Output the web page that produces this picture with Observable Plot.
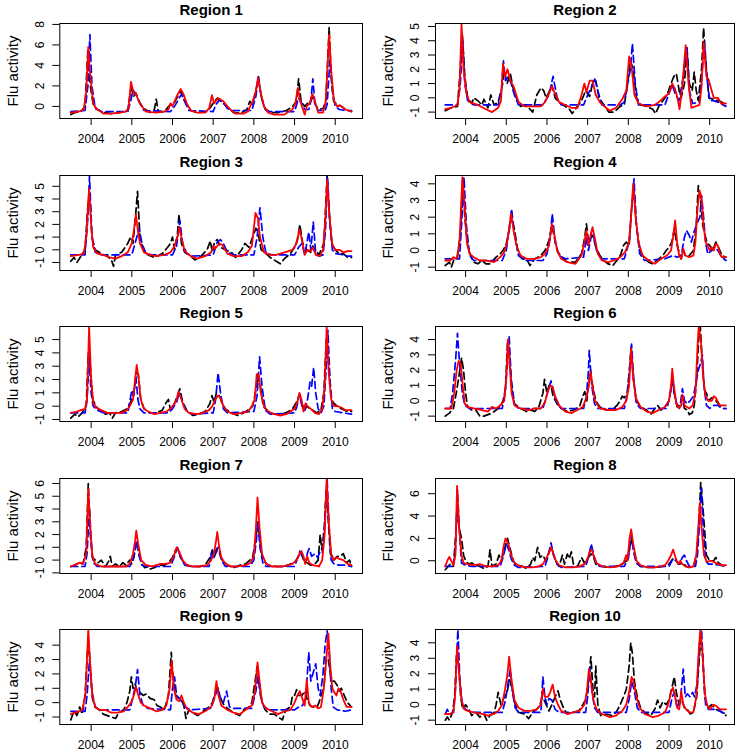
<!DOCTYPE html>
<html>
<head>
<meta charset="utf-8">
<script src="https://cdn.jsdelivr.net/npm/d3@7"></script>
<script src="https://cdn.jsdelivr.net/npm/@observablehq/plot@0.6"></script>
<style>
  html, body { margin: 0; padding: 0; background: #fff; }
  #chart { position: relative; width: 740px; height: 754px; background: #fff; overflow: hidden; }
  .panel { position: absolute; width: 370px; height: 151px; }
</style>
</head>
<body>
<div id="chart"></div>
<script>
// ---------------- DATA ----------------
const regionNames = ["Region 1","Region 2","Region 3","Region 4","Region 5","Region 6","Region 7","Region 8","Region 9","Region 10"];
const xTicks = [2004, 2005, 2006, 2007, 2008, 2009, 2010];
const yTicks = [
  [0,2,4,6,8], [-1,0,1,2,3,4,5], [-1,0,1,2,3,4,5], [-1,0,1,2,3,4], [-1,0,1,2,3,4,5],
  [-1,0,1,2,3,4], [-1,0,1,2,3,4,5,6], [0,2,4,6], [-1,0,1,2,3,4], [-1,0,1,2,3,4]
];
const yDomains = [
  [-1.18,8.09], [-1.45,5.21], [-1.63,5.85], [-1.2,4.5], [-1.15,5.98],
  [-1.35,4.85], [-1.05,6.39], [-1.14,7.36], [-1.52,5.09], [-1.28,4.86]
];

// series as flat lists: year, value, year, value, ...
const r1Black = [2003.5,-0.8,2003.6,-0.6,2003.75,-0.5,2003.85,0,2003.92,5.5,2003.98,2,2004.05,0.2,2004.15,-0.3,2004.3,-0.6,2004.5,-0.7,2004.7,-0.6,2004.9,-0.4,2004.98,1.8,2005.05,1,2005.1,1.3,2005.2,0.3,2005.3,-0.2,2005.45,-0.6,2005.55,-0.4,2005.6,0.7,2005.65,-0.5,2005.8,-0.5,2005.95,0.2,2006.05,0.4,2006.13,1,2006.2,1.5,2006.3,0.5,2006.45,-0.4,2006.6,-0.6,2006.85,-0.5,2006.95,0,2007.03,0.5,2007.1,0.8,2007.2,0.5,2007.35,-0.1,2007.5,-0.6,2007.7,-0.6,2007.83,-0.3,2007.9,0.5,2007.96,0.2,2008.05,1.5,2008.11,2.9,2008.18,1,2008.27,-0.2,2008.4,-0.6,2008.6,-0.6,2008.8,-0.4,2008.95,0,2009.05,0.5,2009.1,2.7,2009.16,0.5,2009.25,0,2009.32,0.3,2009.4,0.5,2009.45,1,2009.5,0.3,2009.58,-0.3,2009.7,-0.2,2009.77,0.5,2009.85,7.7,2009.9,3,2009.96,0.5,2010.05,0.2,2010.15,0,2010.25,-0.3,2010.4,-0.5];
const r1Blue = [2003.5,-0.5,2003.85,-0.4,2003.92,2,2003.97,7,2004.02,2,2004.1,-0.2,2004.25,-0.5,2004.9,-0.5,2004.97,0.5,2005.03,1.6,2005.1,1.2,2005.2,0.3,2005.3,-0.4,2005.95,-0.5,2006.05,0,2006.15,0.7,2006.22,1.2,2006.3,0.5,2006.4,-0.4,2007,-0.5,2007.07,0.2,2007.15,0.6,2007.25,0.4,2007.35,-0.2,2007.45,-0.4,2007.95,-0.4,2008.05,1,2008.11,2.9,2008.18,1,2008.27,-0.3,2008.35,-0.5,2009,-0.5,2009.1,0.8,2009.18,0.3,2009.25,-0.3,2009.35,-0.3,2009.4,0.5,2009.45,2.7,2009.5,0.3,2009.58,-0.4,2009.75,-0.4,2009.8,0.2,2009.87,4.5,2009.93,1.5,2010,0,2010.1,-0.3,2010.25,-0.4,2010.4,-0.4];
const r1Red = [2003.5,-0.6,2003.7,-0.5,2003.82,-0.3,2003.88,1.5,2003.93,5.8,2003.98,3,2004.05,0.3,2004.12,-0.2,2004.2,-0.4,2004.3,-0.7,2004.5,-0.7,2004.7,-0.6,2004.85,-0.5,2004.92,-0.2,2004.98,2.4,2005.05,1.2,2005.1,1.3,2005.17,0.5,2005.25,0,2005.35,-0.5,2005.6,-0.6,2005.8,-0.5,2005.9,-0.3,2005.95,0.3,2006,0,2006.05,0.5,2006.13,1.2,2006.2,1.7,2006.27,1.2,2006.35,0.3,2006.45,-0.4,2006.6,-0.6,2006.8,-0.6,2006.9,-0.2,2006.97,1.1,2007.02,0.3,2007.08,0.6,2007.13,0.8,2007.25,0.5,2007.35,0,2007.45,-0.4,2007.55,-0.7,2007.75,-0.7,2007.85,-0.5,2007.92,0.1,2007.97,0.5,2008.05,1.5,2008.1,2.8,2008.17,1.3,2008.25,0,2008.35,-0.6,2008.5,-0.8,2008.75,-0.8,2008.85,-0.5,2008.95,-0.3,2009.02,0.3,2009.08,1.8,2009.14,0.5,2009.2,-0.2,2009.25,-0.8,2009.3,0,2009.37,0.3,2009.44,1.2,2009.5,0.5,2009.58,-0.6,2009.7,-0.6,2009.76,0.3,2009.8,3,2009.85,7,2009.9,3.5,2009.97,0.5,2010.05,0,2010.12,0.1,2010.25,-0.3,2010.4,-0.5];

const r2Black = [2003.5,-0.9,2003.65,-0.7,2003.8,-0.6,2003.87,2,2003.92,4.5,2003.98,1.5,2004.05,0,2004.15,-0.4,2004.2,0,2004.3,-0.2,2004.4,-0.5,2004.45,-0.1,2004.55,-0.7,2004.62,0.2,2004.7,-0.5,2004.8,-0.3,2004.9,0.8,2004.95,1.9,2005.02,1,2005.1,1.7,2005.18,0.5,2005.25,0,2005.35,-0.6,2005.45,-0.5,2005.55,-0.7,2005.65,-1,2005.75,0.2,2005.85,0.7,2005.92,0.5,2005.98,0,2006.05,0.4,2006.12,0.9,2006.2,0,2006.3,-0.3,2006.45,-0.6,2006.55,-0.8,2006.62,-1.1,2006.75,-0.6,2006.85,-0.2,2006.95,0.5,2007.05,0.1,2007.12,1,2007.2,1.2,2007.28,0,2007.4,-0.5,2007.52,-1,2007.65,-1,2007.8,-0.6,2007.9,-0.5,2007.97,0.7,2008.05,2.6,2008.12,2,2008.2,0,2008.3,-0.5,2008.45,-0.6,2008.6,-0.8,2008.67,-1.1,2008.75,-0.6,2008.85,-0.2,2008.95,0.2,2009.05,1,2009.12,1.5,2009.18,1.7,2009.25,0.5,2009.3,0,2009.38,1,2009.44,3.6,2009.5,1,2009.57,0.5,2009.62,1.8,2009.67,0.5,2009.72,-0.2,2009.8,2,2009.85,4.9,2009.92,2,2009.98,0,2010.08,-0.1,2010.2,-0.2,2010.3,-0.3,2010.4,-0.5];
const r2Blue = [2003.5,-0.5,2003.8,-0.5,2003.87,1,2003.93,4,2003.98,1,2004.05,-0.2,2004.2,-0.5,2004.8,-0.5,2004.88,0.5,2004.93,2.6,2004.98,1.2,2005.05,1.5,2005.12,1,2005.2,0.2,2005.3,-0.5,2005.9,-0.5,2006.05,0.2,2006.15,1.5,2006.25,0,2006.35,-0.5,2006.9,-0.5,2007,0.2,2007.1,0.8,2007.17,1.4,2007.25,0.5,2007.35,-0.5,2007.8,-0.5,2007.9,-0.3,2008.05,2,2008.1,3.8,2008.17,1,2008.25,-0.5,2008.9,-0.5,2009,0.3,2009.08,0.9,2009.15,0.3,2009.25,-0.2,2009.35,1.5,2009.44,3.5,2009.5,0.5,2009.58,-0.4,2009.75,-0.3,2009.82,2,2009.87,3.9,2009.93,1.5,2010,-0.2,2010.1,-0.2,2010.2,-0.3,2010.4,-0.6];
const r2Red = [2003.5,-0.8,2003.65,-0.7,2003.8,-0.5,2003.85,0.5,2003.9,5.2,2003.95,2,2004.02,0.3,2004.1,-0.3,2004.3,-0.5,2004.5,-0.8,2004.65,-1,2004.8,-0.7,2004.87,-0.2,2004.92,2.4,2004.97,1.5,2005.03,2,2005.1,1.2,2005.18,0.8,2005.3,-0.3,2005.45,-0.6,2005.7,-0.6,2005.85,-0.6,2005.95,-0.3,2006.05,0.3,2006.12,0.8,2006.2,0.3,2006.3,-0.3,2006.45,-0.5,2006.6,-0.7,2006.75,-0.7,2006.85,0.2,2006.92,1,2006.97,0.4,2007.05,1.2,2007.12,1.2,2007.2,0.2,2007.3,-0.3,2007.45,-0.7,2007.55,-0.9,2007.7,-0.7,2007.85,-0.1,2007.95,0.5,2008.02,2.9,2008.08,2.2,2008.15,0.2,2008.25,-0.4,2008.45,-0.6,2008.65,-0.5,2008.75,-0.3,2008.9,0.1,2009,0.3,2009.08,1,2009.15,0.6,2009.2,0.1,2009.26,-0.8,2009.32,0.6,2009.41,3.7,2009.48,1,2009.55,-0.7,2009.65,-0.6,2009.75,-0.5,2009.8,0.8,2009.85,3.9,2009.92,1.5,2009.97,1.3,2010.05,0.5,2010.1,0,2010.2,0,2010.28,-0.4,2010.4,-0.4];

const r3Black = [2003.5,-0.9,2003.58,-0.6,2003.65,-1,2003.75,-0.5,2003.85,0,2003.92,3.5,2003.97,4.2,2004.02,1,2004.1,0,2004.25,-0.3,2004.4,-0.5,2004.5,-0.8,2004.55,-1.3,2004.6,-0.4,2004.75,-0.2,2004.9,0.5,2004.97,1,2005.03,0.5,2005.1,3,2005.14,4.6,2005.2,1,2005.28,0,2005.4,-0.4,2005.55,-0.6,2005.75,-0.3,2005.88,0.2,2005.95,0.5,2006,1,2006.05,0,2006.12,1.2,2006.16,2.8,2006.22,0.5,2006.3,-0.2,2006.45,-0.5,2006.55,-0.8,2006.7,-0.5,2006.85,0,2006.93,0.7,2006.98,-0.2,2007.03,0.6,2007.1,0.8,2007.18,0.2,2007.3,0,2007.45,-0.2,2007.55,-0.6,2007.7,0,2007.78,0.5,2007.88,0.2,2007.97,1,2008.05,1.7,2008.12,1,2008.18,0,2008.3,-0.3,2008.4,-0.6,2008.55,-0.9,2008.65,-1.1,2008.75,-0.7,2008.9,-0.3,2009,0.2,2009.07,0.8,2009.13,2,2009.2,0.5,2009.3,0,2009.4,-0.2,2009.45,0.3,2009.5,0,2009.6,-0.4,2009.72,0.5,2009.8,5.8,2009.86,2.5,2009.92,0.5,2010,0,2010.1,-0.3,2010.2,-0.3,2010.3,-0.6,2010.4,-0.6];
const r3Blue = [2003.5,-0.4,2003.85,-0.4,2003.92,2.5,2003.96,5.8,2004.02,1,2004.1,-0.2,2004.25,-0.4,2005,-0.4,2005.08,0.5,2005.18,1.7,2005.25,0.5,2005.35,-0.3,2005.5,-0.4,2006,-0.4,2006.1,0.3,2006.18,2.3,2006.25,0.5,2006.35,-0.3,2006.5,-0.5,2007,-0.4,2007.1,0.6,2007.18,0.8,2007.25,0.5,2007.35,-0.2,2007.5,-0.4,2008,-0.4,2008.08,1,2008.15,3.3,2008.22,1,2008.3,-0.3,2008.45,-0.4,2009,-0.4,2009.1,0.2,2009.18,0.5,2009.25,-0.4,2009.35,1.4,2009.4,0,2009.46,2.2,2009.52,-0.3,2009.6,-0.5,2009.7,-0.4,2009.76,1.5,2009.81,5.8,2009.87,2,2009.93,0,2010,-0.3,2010.2,-0.4,2010.3,-0.5,2010.4,-0.5];
const r3Red = [2003.5,-0.5,2003.7,-0.4,2003.82,-0.3,2003.88,1,2003.95,4.8,2004,2,2004.05,0.2,2004.15,-0.3,2004.3,-0.4,2004.45,-0.6,2004.6,-0.7,2004.75,-0.5,2004.9,-0.2,2005,0.5,2005.05,1.5,2005.1,2.8,2005.15,1.5,2005.2,0.5,2005.3,-0.2,2005.45,-0.4,2005.6,-0.5,2005.8,-0.4,2005.95,-0.2,2006.05,0.3,2006.12,1,2006.17,1.8,2006.23,0.8,2006.3,-0.1,2006.45,-0.5,2006.6,-0.7,2006.8,-0.5,2006.95,-0.2,2007,0.3,2007.05,0.1,2007.15,0.5,2007.22,0.4,2007.35,-0.3,2007.5,-0.5,2007.7,-0.5,2007.85,-0.2,2007.95,0.3,2008.04,2.9,2008.1,2.5,2008.15,1,2008.25,-0.2,2008.4,-0.4,2008.55,-0.4,2008.75,-0.2,2008.95,0,2009.05,0.5,2009.12,1.6,2009.18,0.8,2009.25,-0.4,2009.32,0,2009.4,-0.1,2009.45,0.2,2009.52,-0.4,2009.62,-0.5,2009.7,0,2009.76,2.5,2009.8,5.5,2009.85,3,2009.92,0.5,2010,0,2010.1,0,2010.2,-0.2,2010.3,-0.1,2010.4,-0.1];

const r4Black = [2003.5,-0.9,2003.6,-0.7,2003.65,-1,2003.72,-0.5,2003.8,-0.4,2003.87,1,2003.93,4.3,2003.98,2,2004.05,0.3,2004.12,-0.3,2004.2,-0.7,2004.3,-0.8,2004.4,-0.6,2004.5,-0.8,2004.6,-0.8,2004.75,-0.4,2004.85,-0.2,2004.92,0,2005,0.4,2005.07,1.2,2005.13,2,2005.2,1.3,2005.28,0,2005.4,-0.5,2005.5,-0.5,2005.58,-0.9,2005.7,-0.5,2005.85,-0.3,2005.95,0,2006.05,0.6,2006.12,1.5,2006.18,0.8,2006.25,0,2006.35,-0.4,2006.5,-0.7,2006.7,-0.7,2006.85,-0.2,2006.93,0.8,2006.97,1.6,2007.02,0.5,2007.08,0.8,2007.13,0.9,2007.2,0.2,2007.3,-0.3,2007.4,-0.6,2007.5,-0.8,2007.62,-0.9,2007.75,-0.5,2007.82,-0.2,2007.88,0.3,2007.95,0.5,2008.02,0.3,2008.08,2.5,2008.13,3.8,2008.2,1.5,2008.28,0,2008.4,-0.5,2008.5,-0.7,2008.6,-0.8,2008.75,-0.5,2008.85,-0.3,2008.93,0,2009,0.2,2009.07,0.5,2009.13,1.3,2009.2,0.3,2009.27,-0.3,2009.3,-0.5,2009.35,0,2009.4,-0.3,2009.5,-0.3,2009.6,0,2009.67,1.5,2009.72,3.9,2009.78,3,2009.83,1.5,2009.88,1,2009.93,0.5,2010,0.3,2010.08,0,2010.15,0.5,2010.2,0.3,2010.3,-0.3,2010.4,-0.4];
const r4Blue = [2003.5,-0.5,2003.85,-0.5,2003.9,1.5,2003.96,4.4,2004.02,1.5,2004.1,-0.3,2004.2,-0.6,2004.9,-0.6,2005,0,2005.08,1.5,2005.13,2.5,2005.2,1,2005.3,-0.3,2005.45,-0.6,2005.9,-0.6,2006,-0.2,2006.08,0.8,2006.13,2.2,2006.2,0.5,2006.3,-0.3,2006.45,-0.5,2006.9,-0.4,2006.97,0.8,2007.02,0,2007.1,1,2007.15,0.8,2007.22,0,2007.35,-0.5,2007.9,-0.5,2008.02,0.5,2008.08,2.5,2008.14,4.3,2008.2,1.5,2008.28,-0.2,2008.4,-0.6,2008.9,-0.5,2009.1,-0.3,2009.2,-0.4,2009.3,-0.3,2009.38,0.8,2009.43,1.2,2009.5,0.9,2009.55,0.5,2009.6,1,2009.67,1.5,2009.72,1.8,2009.76,2,2009.8,3.3,2009.85,2,2009.9,0.5,2009.95,-0.2,2010.05,0,2010.12,0.2,2010.2,0,2010.3,-0.4,2010.4,-0.6];
const r4Red = [2003.5,-0.6,2003.62,-0.6,2003.7,-0.4,2003.78,-0.5,2003.85,0.5,2003.92,4.4,2003.98,2.5,2004.03,0.5,2004.1,-0.2,2004.2,-0.4,2004.35,-0.6,2004.5,-0.6,2004.7,-0.7,2004.85,-0.4,2004.95,-0.1,2005.02,0.5,2005.08,1.5,2005.12,2.2,2005.18,1.2,2005.25,0.3,2005.35,-0.3,2005.5,-0.5,2005.7,-0.5,2005.85,-0.4,2005.95,-0.2,2006.05,0.3,2006.12,1.6,2006.18,1,2006.25,0,2006.35,-0.5,2006.5,-0.7,2006.7,-0.8,2006.85,-0.3,2006.92,0.5,2006.97,1.2,2007.02,0.3,2007.08,1,2007.12,1.4,2007.18,0.7,2007.25,-0.2,2007.35,-0.6,2007.5,-0.7,2007.65,-0.6,2007.8,-0.4,2007.92,-0.1,2008.02,0.5,2008.08,2.5,2008.12,4,2008.18,2,2008.25,0.5,2008.35,-0.3,2008.5,-0.6,2008.65,-0.8,2008.8,-0.5,2008.95,-0.3,2009.05,0,2009.1,0.8,2009.15,1.8,2009.2,0.5,2009.25,-0.3,2009.3,-0.5,2009.35,0.1,2009.4,-0.3,2009.5,-0.4,2009.6,-0.3,2009.65,0.5,2009.7,2.5,2009.75,3.6,2009.8,3.2,2009.85,1.5,2009.9,0.5,2009.95,0.3,2010,0,2010.05,0.2,2010.1,0,2010.15,0.4,2010.2,0.3,2010.25,-0.2,2010.3,-0.4,2010.4,-0.4];

const r5Black = [2003.5,-0.9,2003.6,-0.6,2003.68,-0.8,2003.78,-0.5,2003.88,0,2003.93,4,2003.98,3,2004.04,0.5,2004.12,0,2004.2,-0.3,2004.35,-0.6,2004.45,-0.5,2004.52,-0.9,2004.6,-0.5,2004.75,-0.4,2004.88,-0.2,2004.97,0.3,2005.05,1,2005.11,2.5,2005.16,2.4,2005.22,0.5,2005.3,-0.2,2005.45,-0.5,2005.6,-0.5,2005.75,-0.3,2005.85,0.3,2005.9,0.5,2005.95,-0.3,2006.05,0.2,2006.12,0.8,2006.18,1.3,2006.25,0.3,2006.35,-0.3,2006.5,-0.7,2006.65,-0.6,2006.8,-0.4,2006.92,0.2,2006.97,0.8,2007.02,0.3,2007.08,1,2007.15,0.8,2007.22,0.2,2007.3,-0.2,2007.45,-0.5,2007.6,-0.7,2007.75,-0.5,2007.9,-0.2,2007.97,0,2008.05,1.2,2008.1,2.3,2008.16,1.5,2008.23,0,2008.35,-0.4,2008.5,-0.6,2008.7,-0.6,2008.85,-0.4,2008.95,-0.2,2009.05,0.3,2009.12,0.9,2009.18,0.2,2009.25,-0.3,2009.3,0,2009.38,-0.2,2009.45,-0.3,2009.55,-0.5,2009.65,-0.3,2009.72,1,2009.78,5,2009.83,3.5,2009.9,0.5,2009.97,0.2,2010.05,0,2010.15,-0.2,2010.3,-0.4,2010.4,-0.4];
const r5Blue = [2003.5,-0.5,2003.85,-0.5,2003.9,0.5,2003.95,3.5,2004,1,2004.05,0,2004.15,-0.3,2004.3,-0.5,2004.9,-0.5,2004.96,0.5,2005,1.2,2005.05,0.8,2005.1,2.2,2005.15,0.5,2005.2,-0.2,2005.3,-0.5,2005.9,-0.5,2006,-0.2,2006.1,0.3,2006.17,1,2006.25,0.3,2006.35,-0.4,2006.5,-0.6,2007,-0.5,2007.06,0.5,2007.12,2.5,2007.18,1,2007.25,-0.2,2007.35,-0.5,2008,-0.4,2008.08,0.8,2008.14,3.7,2008.2,1.5,2008.28,-0.3,2008.4,-0.6,2009,-0.5,2009.06,0,2009.12,0.9,2009.18,0,2009.25,-0.3,2009.32,0.5,2009.38,1.8,2009.42,1.5,2009.47,2.9,2009.52,1,2009.58,-0.2,2009.65,-0.5,2009.72,0,2009.78,3,2009.82,5.7,2009.87,2,2009.93,-0.2,2010,-0.4,2010.2,-0.5,2010.4,-0.6];
const r5Red = [2003.5,-0.5,2003.65,-0.4,2003.75,-0.3,2003.85,-0.2,2003.9,0.5,2003.95,6,2004,2,2004.05,0.3,2004.12,-0.1,2004.25,-0.3,2004.4,-0.5,2004.6,-0.5,2004.75,-0.5,2004.88,-0.3,2004.95,0,2005.03,0.5,2005.08,2,2005.12,3.1,2005.17,2,2005.22,0.5,2005.3,-0.2,2005.4,-0.4,2005.55,-0.6,2005.7,-0.5,2005.85,-0.4,2005.95,-0.2,2006.05,0.2,2006.1,0.5,2006.15,1.1,2006.22,0.5,2006.3,-0.2,2006.4,-0.5,2006.6,-0.6,2006.75,-0.5,2006.9,-0.3,2006.98,0,2007.05,0.5,2007.12,0.8,2007.18,0.6,2007.25,0,2007.35,-0.4,2007.5,-0.6,2007.7,-0.5,2007.85,-0.4,2007.95,0,2008.02,0.5,2008.07,2.4,2008.12,2.4,2008.17,1,2008.25,0,2008.35,-0.4,2008.5,-0.6,2008.65,-0.7,2008.8,-0.6,2008.9,-0.4,2009,-0.2,2009.07,0.3,2009.12,1,2009.17,0.5,2009.22,-0.4,2009.27,0.2,2009.32,0,2009.4,-0.2,2009.5,-0.5,2009.6,-0.6,2009.68,-0.2,2009.74,1.5,2009.79,6,2009.84,2.5,2009.9,0.5,2009.97,0,2010.05,0,2010.15,-0.1,2010.25,-0.3,2010.4,-0.3];

const r6Black = [2003.5,-1,2003.6,-0.8,2003.7,-0.5,2003.77,0.5,2003.83,1.5,2003.9,2.8,2003.95,2,2004,0.5,2004.05,-0.4,2004.15,-0.6,2004.25,-0.6,2004.35,-1,2004.45,-1,2004.55,-0.9,2004.65,-0.8,2004.75,-0.6,2004.85,-0.4,2004.92,0,2004.98,0.8,2005.03,3.8,2005.08,3,2005.13,0.8,2005.2,-0.2,2005.35,-0.5,2005.5,-0.7,2005.6,-0.6,2005.7,-0.7,2005.8,-0.4,2005.9,0.5,2005.94,1.4,2006,0.5,2006.05,1,2006.1,1,2006.15,0.3,2006.25,-0.2,2006.35,-0.5,2006.5,-0.7,2006.65,-0.6,2006.8,-0.4,2006.88,0.3,2006.93,0.6,2006.98,0,2007.03,1.2,2007.07,2,2007.12,1,2007.2,0,2007.3,-0.4,2007.45,-0.6,2007.6,-0.6,2007.72,-0.3,2007.8,0,2007.85,0.3,2007.9,0.2,2007.97,0.5,2008.03,2,2008.07,3.5,2008.12,1.5,2008.2,0,2008.3,-0.4,2008.45,-0.6,2008.55,-0.9,2008.65,-0.5,2008.72,-0.3,2008.8,-0.6,2008.9,-0.4,2009,0,2009.05,0.8,2009.08,1.5,2009.13,0.5,2009.2,-0.4,2009.27,-0.3,2009.32,0.2,2009.38,-0.5,2009.45,-0.6,2009.5,-0.9,2009.57,-0.8,2009.62,-0.3,2009.68,1.5,2009.73,4,2009.77,4.8,2009.82,2.5,2009.87,0.7,2009.92,0.5,2009.97,0,2010.05,0.2,2010.15,0,2010.25,-0.3,2010.35,-0.5,2010.4,-0.5];
const r6Blue = [2003.5,-0.5,2003.62,-0.5,2003.68,0.5,2003.75,2.5,2003.8,4.4,2003.85,2.5,2003.92,0.5,2003.98,-0.3,2004.1,-0.5,2004.9,-0.5,2004.97,0.5,2005.03,2.5,2005.07,4.2,2005.12,1.5,2005.2,-0.2,2005.3,-0.5,2005.9,-0.5,2005.98,0.2,2006.05,0.9,2006.1,1.3,2006.17,0.5,2006.25,-0.2,2006.35,-0.5,2006.9,-0.5,2006.97,0.3,2007.02,2,2007.04,3.3,2007.1,1,2007.17,-0.2,2007.25,-0.5,2007.9,-0.5,2007.98,0.5,2008.04,2.5,2008.08,3.7,2008.13,1.5,2008.2,-0.2,2008.3,-0.5,2008.95,-0.5,2009.02,0.3,2009.08,1.3,2009.13,0.5,2009.2,-0.3,2009.28,-0.2,2009.33,0.8,2009.38,0,2009.45,-0.2,2009.52,0,2009.6,0.3,2009.65,1,2009.72,2,2009.78,2.5,2009.82,3,2009.86,1,2009.92,-0.3,2010,-0.5,2010.1,-0.3,2010.2,-0.3,2010.3,-0.5,2010.4,-0.5];
const r6Red = [2003.5,-0.5,2003.65,-0.5,2003.72,0.5,2003.78,2,2003.83,2.6,2003.88,2.4,2003.93,1,2003.98,-0.2,2004.05,-0.4,2004.2,-0.5,2004.4,-0.6,2004.55,-0.7,2004.65,-0.4,2004.75,-0.5,2004.85,-0.3,2004.95,0,2005,1.5,2005.04,4,2005.08,2.5,2005.13,0.5,2005.2,-0.3,2005.35,-0.5,2005.55,-0.6,2005.7,-0.5,2005.85,-0.5,2005.95,-0.1,2006.02,0.6,2006.08,1,2006.14,0.9,2006.2,0.3,2006.3,-0.3,2006.45,-0.7,2006.6,-0.8,2006.75,-0.6,2006.88,-0.4,2006.97,0.2,2007.03,1,2007.07,1.9,2007.12,1,2007.18,0,2007.3,-0.5,2007.5,-0.6,2007.7,-0.6,2007.85,-0.4,2007.95,0,2008.02,1,2008.07,3.4,2008.12,1.5,2008.18,0.2,2008.3,-0.4,2008.45,-0.7,2008.6,-0.8,2008.75,-0.6,2008.9,-0.4,2009,0,2009.05,1,2009.08,2.1,2009.12,1,2009.18,-0.2,2009.25,-0.5,2009.3,-0.3,2009.33,0.4,2009.38,-0.3,2009.5,-0.5,2009.58,-0.3,2009.65,0.5,2009.7,3.5,2009.73,4.85,2009.78,4,2009.84,1.5,2009.9,0.3,2009.97,0,2010.05,0,2010.1,0.3,2010.15,0.2,2010.25,-0.3,2010.4,-0.3];

const r7Black = [2003.5,-0.5,2003.6,-0.4,2003.7,-0.2,2003.8,-0.3,2003.88,1,2003.93,6,2003.98,2,2004.03,0.2,2004.1,0,2004.17,-0.2,2004.25,0,2004.35,-0.5,2004.43,-0.1,2004.47,0.3,2004.52,-0.5,2004.6,-0.3,2004.7,-0.5,2004.78,-0.2,2004.85,-0.4,2004.95,0,2005,-0.3,2005.05,0.2,2005.12,1.5,2005.18,0.5,2005.25,-0.3,2005.32,-0.6,2005.4,-0.5,2005.45,-0.7,2005.55,-0.6,2005.65,-0.4,2005.8,-0.4,2005.9,-0.2,2006,0.2,2006.08,0.8,2006.13,0.9,2006.2,0.2,2006.3,-0.3,2006.45,-0.5,2006.65,-0.5,2006.8,-0.4,2006.92,0.2,2006.98,0.8,2007.03,0.3,2007.1,0.8,2007.15,0.6,2007.22,0,2007.35,-0.4,2007.5,-0.6,2007.65,-0.4,2007.8,-0.3,2007.9,0,2007.97,0.2,2008.05,1.8,2008.1,3,2008.15,1.5,2008.22,0,2008.35,-0.4,2008.55,-0.5,2008.75,-0.5,2008.9,-0.3,2009,-0.2,2009.1,0.3,2009.16,0.6,2009.22,0,2009.3,-0.2,2009.4,-0.4,2009.5,-0.3,2009.58,0,2009.63,2,2009.67,0.8,2009.73,2.5,2009.78,5.5,2009.83,3,2009.88,0.5,2009.95,0,2010.05,0.3,2010.12,0.3,2010.2,0.5,2010.28,-0.2,2010.35,0,2010.4,-0.5];
const r7Blue = [2003.5,-0.5,2003.85,-0.5,2003.9,0.5,2003.96,4.2,2004,1.5,2004.05,-0.2,2004.15,-0.5,2004.95,-0.5,2005.02,0,2005.08,0.8,2005.12,1.5,2005.18,0.3,2005.25,-0.4,2005.35,-0.5,2005.95,-0.5,2006.05,0.3,2006.12,1,2006.2,0.2,2006.3,-0.4,2006.45,-0.5,2006.9,-0.5,2006.97,0.7,2007.02,0.2,2007.08,0.9,2007.13,1,2007.2,0,2007.3,-0.5,2007.9,-0.5,2008,0,2008.06,1.5,2008.1,3,2008.15,1,2008.22,-0.2,2008.3,-0.5,2009,-0.5,2009.08,0.2,2009.13,0.7,2009.2,0.2,2009.27,-0.2,2009.32,0.6,2009.36,0.9,2009.42,0.3,2009.5,0.5,2009.57,0.2,2009.62,0.6,2009.68,0.5,2009.73,2,2009.77,5,2009.8,6.4,2009.85,2.5,2009.9,0,2009.97,-0.3,2010.1,-0.4,2010.25,-0.4,2010.4,-0.5];
const r7Red = [2003.5,-0.5,2003.65,-0.3,2003.72,-0.2,2003.8,-0.3,2003.88,0.5,2003.93,5.6,2003.98,2.5,2004.03,0.3,2004.1,-0.3,2004.25,-0.5,2004.5,-0.5,2004.7,-0.5,2004.85,-0.5,2004.95,-0.3,2005.03,0.5,2005.08,1.5,2005.11,2.3,2005.16,1.2,2005.23,0,2005.35,-0.4,2005.5,-0.5,2005.7,-0.3,2005.85,-0.3,2005.95,-0.2,2006.03,0.3,2006.1,1,2006.16,0.7,2006.25,0,2006.35,-0.4,2006.5,-0.5,2006.7,-0.5,2006.85,-0.4,2006.95,0,2007.02,0.5,2007.07,1.5,2007.1,2.2,2007.15,1,2007.2,0.2,2007.3,-0.3,2007.45,-0.5,2007.6,-0.5,2007.8,-0.4,2007.92,-0.2,2008,0.3,2008.05,2.5,2008.09,4.9,2008.14,2.5,2008.2,0.5,2008.3,-0.3,2008.45,-0.5,2008.7,-0.5,2008.85,-0.4,2008.95,-0.3,2009.05,0,2009.12,0.5,2009.17,0.7,2009.22,0.3,2009.26,-0.3,2009.31,0.3,2009.36,-0.2,2009.45,-0.4,2009.6,-0.5,2009.68,0,2009.74,2,2009.79,6.4,2009.84,3,2009.9,0.5,2009.97,0,2010.03,0.2,2010.1,0.1,2010.2,0,2010.3,-0.3,2010.4,-0.4];

const r8Black = [2003.5,-0.8,2003.55,-0.6,2003.62,-0.3,2003.7,-0.5,2003.75,2,2003.79,4.5,2003.84,3,2003.9,2,2003.95,0.5,2004,0,2004.08,-0.3,2004.15,-0.2,2004.25,-0.4,2004.35,-0.5,2004.45,-0.7,2004.55,-0.5,2004.6,1,2004.65,-0.5,2004.75,-0.3,2004.82,0.5,2004.88,0,2004.95,1,2005.03,2,2005.1,1,2005.17,0,2005.25,-0.4,2005.4,-0.5,2005.5,-0.7,2005.6,-0.3,2005.65,0.3,2005.7,0,2005.77,1.2,2005.83,0.3,2005.9,0.5,2005.97,0,2006.05,0.8,2006.12,1.2,2006.18,0.3,2006.25,-0.3,2006.3,-0.5,2006.38,0.5,2006.43,-0.3,2006.5,0.6,2006.55,0.2,2006.6,0.8,2006.65,-0.3,2006.75,-0.5,2006.85,0.3,2006.92,-0.2,2007,0.2,2007.08,0.6,2007.13,0.5,2007.2,-0.3,2007.35,-0.5,2007.5,-0.6,2007.7,-0.5,2007.85,-0.3,2007.95,0,2008.03,1,2008.08,2,2008.13,1,2008.2,-0.2,2008.3,-0.5,2008.5,-0.6,2008.7,-0.6,2008.85,-0.5,2009,-0.3,2009.1,0.2,2009.17,0,2009.25,-0.3,2009.35,-0.2,2009.42,-0.5,2009.5,-0.6,2009.6,-0.5,2009.68,0.5,2009.73,3,2009.78,7,2009.83,5,2009.87,3,2009.92,0.5,2010,0,2010.1,0,2010.15,0.3,2010.22,-0.2,2010.3,-0.4,2010.4,-0.5];
const r8Blue = [2003.5,-0.5,2003.7,-0.5,2003.75,1,2003.8,6.3,2003.85,2.5,2003.9,-0.2,2004,-0.4,2004.15,-0.5,2004.85,-0.5,2004.92,0.3,2005,1.5,2005.06,1,2005.12,0.2,2005.2,-0.4,2005.3,-0.6,2005.95,-0.5,2006.02,0.3,2006.1,1.6,2006.16,0.5,2006.25,-0.3,2006.35,-0.6,2006.95,-0.5,2007.02,0.3,2007.09,1.5,2007.15,0.5,2007.22,-0.3,2007.3,-0.5,2007.9,-0.5,2008,0.2,2008.08,2.3,2008.13,0.8,2008.2,-0.2,2008.3,-0.5,2009,-0.5,2009.1,0.2,2009.17,0,2009.25,-0.3,2009.33,0.3,2009.38,0.5,2009.43,0,2009.5,-0.5,2009.65,-0.5,2009.7,0.5,2009.76,4,2009.8,6.5,2009.84,3,2009.9,0,2009.97,-0.3,2010.1,-0.3,2010.25,-0.4,2010.4,-0.5];
const r8Red = [2003.5,-0.5,2003.55,0,2003.6,0.35,2003.65,0,2003.7,-0.4,2003.75,0.5,2003.79,6.7,2003.84,3,2003.9,0.5,2003.95,-0.2,2004.05,-0.3,2004.2,-0.4,2004.35,-0.3,2004.5,-0.5,2004.65,-0.5,2004.8,-0.4,2004.88,0,2004.93,1.2,2004.98,2,2005.05,1.5,2005.12,0.5,2005.2,-0.2,2005.35,-0.5,2005.5,-0.6,2005.65,-0.6,2005.8,-0.5,2005.9,-0.3,2005.98,0.2,2006.05,0.7,2006.1,1.2,2006.15,0.7,2006.22,0,2006.3,-0.4,2006.45,-0.6,2006.65,-0.6,2006.8,-0.5,2006.92,-0.3,2007,0.2,2007.05,0.8,2007.1,1,2007.15,0.4,2007.22,-0.2,2007.35,-0.5,2007.55,-0.6,2007.75,-0.5,2007.88,-0.2,2007.95,0.5,2007.98,0,2008.03,2,2008.07,2.8,2008.12,1.5,2008.2,0,2008.3,-0.4,2008.45,-0.6,2008.65,-0.6,2008.8,-0.5,2008.9,-0.4,2008.98,0,2009.05,0.5,2009.1,1,2009.15,0.4,2009.22,-0.3,2009.28,0,2009.33,-0.3,2009.4,-0.5,2009.5,-0.6,2009.6,-0.5,2009.67,0.5,2009.72,3,2009.76,5.2,2009.8,3,2009.86,0.5,2009.93,-0.1,2010.02,0,2010.1,-0.1,2010.2,-0.3,2010.3,-0.4,2010.4,-0.4];

const r9Black = [2003.5,-1.2,2003.55,-0.8,2003.6,-0.6,2003.65,-0.9,2003.72,-0.3,2003.78,-0.8,2003.85,0.5,2003.93,4.5,2003.98,2.5,2004.03,0.3,2004.1,-0.3,2004.2,-0.5,2004.3,-0.8,2004.4,-0.9,2004.5,-1,2004.6,-1.1,2004.68,-0.7,2004.8,-0.5,2004.88,0,2004.95,0.8,2004.99,1.8,2005.03,1,2005.08,1.3,2005.13,0.8,2005.2,0.7,2005.28,0.5,2005.35,0.6,2005.45,0.3,2005.55,0.2,2005.62,-0.2,2005.7,-0.3,2005.8,-0.5,2005.9,0.5,2005.97,3.5,2006.02,1.5,2006.08,0.5,2006.15,0.3,2006.22,0.2,2006.28,-0.2,2006.33,-1.1,2006.4,-0.5,2006.5,-0.7,2006.62,-0.9,2006.75,-0.6,2006.9,-0.3,2006.98,0,2007.05,0.7,2007.1,1.2,2007.15,0.5,2007.25,-0.1,2007.35,-0.4,2007.5,-0.7,2007.65,-0.9,2007.75,-0.5,2007.88,-0.3,2007.95,0,2008.03,1.5,2008.08,2.5,2008.13,1.5,2008.2,0,2008.28,-0.5,2008.38,-0.8,2008.5,-0.8,2008.6,-1,2008.7,-1.2,2008.78,-0.5,2008.9,-0.3,2008.95,0.5,2009,0.5,2009.05,0.9,2009.1,0.5,2009.18,0.5,2009.25,0.8,2009.3,0.3,2009.38,-0.2,2009.45,-0.3,2009.55,-0.3,2009.6,0,2009.65,0.5,2009.72,1,2009.78,3.2,2009.83,3,2009.88,2,2009.93,1.5,2009.98,1.5,2010.05,1.2,2010.1,0.8,2010.15,1,2010.22,0.5,2010.3,0,2010.4,-0.3];
const r9Blue = [2003.5,-0.6,2003.85,-0.6,2003.9,0.5,2003.96,3,2004.02,0.8,2004.1,-0.3,2004.2,-0.5,2004.95,-0.5,2005.02,0.3,2005.09,1.2,2005.14,2.3,2005.2,0.5,2005.28,-0.2,2005.4,-0.4,2005.95,-0.5,2006,1,2006.05,1.8,2006.1,0.5,2006.2,0.2,2006.3,-0.3,2006.45,-0.5,2006.95,-0.4,2007.05,0.5,2007.12,1,2007.18,0.3,2007.25,0,2007.33,0.8,2007.4,-0.3,2007.5,-0.4,2007.95,-0.4,2008.05,0.8,2008.1,1.8,2008.16,0.5,2008.25,-0.3,2008.4,-0.5,2009,-0.5,2009.1,-0.3,2009.2,-0.2,2009.28,0.5,2009.35,3.5,2009.4,1.5,2009.45,2,2009.52,2.7,2009.58,1,2009.63,0.5,2009.7,2,2009.75,4,2009.8,5,2009.85,3.5,2009.9,1,2009.95,-0.3,2010.05,-0.5,2010.25,-0.6,2010.4,-0.5];
const r9Red = [2003.5,-0.8,2003.6,-0.7,2003.7,-0.6,2003.78,-0.5,2003.86,0.5,2003.93,5.1,2003.98,2.5,2004.03,0.5,2004.1,-0.3,2004.2,-0.5,2004.35,-0.5,2004.5,-0.7,2004.65,-0.7,2004.8,-0.6,2004.9,-0.3,2004.98,0,2005.05,0.5,2005.1,1.1,2005.15,0.6,2005.22,0,2005.3,-0.2,2005.45,-0.4,2005.6,-0.6,2005.75,-0.5,2005.85,-0.2,2005.93,1,2005.98,2.9,2006.03,1,2006.1,0.2,2006.17,0.1,2006.22,0.5,2006.28,0,2006.35,-0.4,2006.5,-0.7,2006.65,-0.8,2006.8,-0.6,2006.95,-0.3,2007.03,0.3,2007.08,1.5,2007.13,0.5,2007.2,-0.2,2007.35,-0.5,2007.5,-0.7,2007.65,-0.8,2007.8,-0.5,2007.95,-0.2,2008.03,0.8,2008.09,2.8,2008.14,1.5,2008.2,0,2008.3,-0.4,2008.45,-0.6,2008.6,-0.8,2008.75,-0.6,2008.9,-0.5,2009,0,2009.07,0.5,2009.13,0.8,2009.2,0.2,2009.25,-0.2,2009.3,1.6,2009.35,0,2009.42,-0.3,2009.5,-0.2,2009.58,-0.4,2009.65,-0.3,2009.72,1,2009.78,3,2009.83,4.8,2009.88,2.5,2009.93,1,2009.98,0.7,2010.03,0.5,2010.08,1,2010.13,0.8,2010.2,0.2,2010.28,-0.3,2010.4,-0.3];

const r10Black = [2003.5,-1,2003.55,-0.8,2003.6,-1,2003.68,-0.5,2003.73,0.5,2003.78,3.3,2003.83,2.5,2003.88,0.5,2003.93,-0.3,2004,0,2004.08,-0.3,2004.15,-0.7,2004.25,-0.5,2004.35,-0.8,2004.45,-0.6,2004.52,-1,2004.6,-0.7,2004.7,-0.5,2004.75,0,2004.8,0.8,2004.87,0,2004.95,0.5,2005.02,0.8,2005.08,1.6,2005.15,1,2005.22,0,2005.3,-0.5,2005.45,-0.6,2005.55,-0.9,2005.65,-0.5,2005.75,-0.3,2005.83,0,2005.88,0.5,2005.93,0.3,2005.98,0,2006.05,-0.4,2006.12,0,2006.2,0.5,2006.27,0.9,2006.33,0.3,2006.42,-0.3,2006.5,-0.6,2006.65,-0.5,2006.78,-0.4,2006.88,0,2006.95,0.3,2007.02,1.5,2007.08,3.1,2007.13,1,2007.17,0.5,2007.2,2.5,2007.25,0,2007.32,-0.7,2007.45,-0.6,2007.6,-0.7,2007.7,-0.5,2007.8,0,2007.88,0.5,2007.95,1,2008.02,2.5,2008.06,4,2008.1,3.3,2008.15,1.5,2008.22,0.5,2008.3,-0.2,2008.4,-0.5,2008.55,-0.7,2008.65,-0.3,2008.72,0.3,2008.78,-0.2,2008.85,0.2,2008.93,0,2009,0.3,2009.08,1.2,2009.13,1.8,2009.18,0.8,2009.25,0,2009.32,0.3,2009.38,-0.2,2009.45,-0.3,2009.52,-0.6,2009.6,-0.5,2009.68,0.5,2009.73,2.5,2009.78,4.3,2009.83,3,2009.88,0.5,2009.95,-0.2,2010.05,0,2010.15,-0.3,2010.25,-0.4,2010.4,-0.7];
const r10Blue = [2003.5,-0.6,2003.55,-0.3,2003.6,-0.6,2003.7,-0.5,2003.75,1,2003.81,4.86,2003.86,1.5,2003.92,0,2004,-0.3,2004.15,-0.5,2004.9,-0.5,2004.98,0.3,2005.05,1.5,2005.1,2.3,2005.15,0.8,2005.22,-0.2,2005.3,-0.5,2005.85,-0.5,2005.9,1.8,2005.95,0.5,2006,0,2006.05,0.4,2006.12,0.3,2006.2,-0.3,2006.3,-0.5,2006.95,-0.5,2007,0.5,2007.05,2.4,2007.1,1,2007.17,-0.2,2007.25,-0.5,2007.95,-0.5,2008.03,0.5,2008.08,1.5,2008.14,1,2008.22,-0.2,2008.3,-0.5,2009,-0.5,2009.08,0.5,2009.13,0.8,2009.2,-0.2,2009.28,0.3,2009.35,2.3,2009.4,0.5,2009.45,0.7,2009.52,0.5,2009.58,0.8,2009.63,0.5,2009.7,1.5,2009.76,4.5,2009.8,4.86,2009.85,2,2009.9,0,2009.97,-0.3,2010.1,-0.3,2010.25,-0.4,2010.4,-0.6];
const r10Red = [2003.5,-0.6,2003.62,-0.6,2003.7,-0.5,2003.74,0.5,2003.79,3.8,2003.84,2,2003.9,0.3,2003.97,-0.3,2004.05,-0.4,2004.2,-0.5,2004.4,-0.6,2004.55,-0.7,2004.7,-0.6,2004.8,-0.4,2004.9,0,2004.97,1,2005.03,2,2005.07,3.1,2005.12,1.8,2005.2,0.3,2005.3,-0.2,2005.45,-0.4,2005.6,-0.4,2005.75,-0.3,2005.85,0,2005.9,1,2005.95,0.5,2006.02,0.5,2006.08,0.8,2006.14,1.3,2006.2,0.5,2006.27,0,2006.35,-0.4,2006.5,-0.6,2006.65,-0.5,2006.8,-0.4,2006.92,0,2006.98,0.8,2007.03,2.3,2007.08,1.5,2007.14,0.3,2007.22,-0.3,2007.35,-0.6,2007.55,-0.8,2007.7,-0.7,2007.85,-0.4,2007.95,0,2008.02,0.8,2008.08,1.8,2008.13,1.5,2008.2,0.5,2008.28,-0.2,2008.4,-0.6,2008.6,-0.8,2008.75,-0.7,2008.9,-0.5,2008.98,0,2009.05,0.8,2009.1,1.1,2009.15,0.5,2009.2,-0.2,2009.25,-0.3,2009.3,0.9,2009.35,0,2009.42,-0.3,2009.5,-0.5,2009.6,-0.5,2009.67,0.5,2009.72,3,2009.77,4.86,2009.82,3.5,2009.88,0.8,2009.93,0,2010,-0.3,2010.1,0,2010.17,-0.1,2010.25,-0.3,2010.4,-0.3];

const blackSeries = [r1Black,r2Black,r3Black,r4Black,r5Black,r6Black,r7Black,r8Black,r9Black,r10Black];
const blueSeries  = [r1Blue,r2Blue,r3Blue,r4Blue,r5Blue,r6Blue,r7Blue,r8Blue,r9Blue,r10Blue];
const redSeries   = [r1Red,r2Red,r3Red,r4Red,r5Red,r6Red,r7Red,r8Red,r9Red,r10Red];

// ---------------- DRAWING ----------------
const FONT = "'Liberation Sans', Arial, Helvetica, sans-serif";
const toRows = (flat) => { const out = []; for (let k = 0; k < flat.length; k += 2) out.push({t: flat[k], v: flat[k + 1]}); return out; };

const chart = document.getElementById("chart");
for (let i = 0; i < 10; i++) {
  const col = i % 2, row = Math.floor(i / 2);
  const left = col === 0 ? 59.3 : 65;
  const right = col === 0 ? 8 : 6;
  const xDomain = col === 0 ? [2003.23, 2010.67] : [2003.26, 2010.61];
  const dash = "7,4";
  const plot = Plot.plot({
    width: 370, height: 151,
    marginTop: 23, marginBottom: 33, marginLeft: left, marginRight: right,
    x: {domain: xDomain},
    y: {domain: yDomains[i]},
    style: {fontFamily: FONT, fontSize: "12px", background: "transparent", overflow: "visible", color: "black"},
    marks: [
      Plot.line(toRows(blackSeries[i]), {x: "t", y: "v", stroke: "black", strokeWidth: 1.7, strokeDasharray: dash, clip: true}),
      Plot.line(toRows(blueSeries[i]), {x: "t", y: "v", stroke: "#0000ff", strokeWidth: 1.7, strokeDasharray: dash, clip: true}),
      Plot.line(toRows(redSeries[i]), {x: "t", y: "v", stroke: "#ff0000", strokeWidth: 1.8, clip: true}),
      Plot.frame({stroke: "black", strokeWidth: 1}),
      Plot.axisX({ticks: xTicks, tickSize: 7, tickPadding: 9, tickFormat: (d) => String(d), label: null, fontSize: 12}),
      Plot.axisY({ticks: yTicks[i], tickSize: 7, tickFormat: () => "", label: null}),
      Plot.text(yTicks[i], {y: (d) => d, text: (d) => String(d), frameAnchor: "left", dx: -20, rotate: -90, textAnchor: "middle", lineAnchor: "middle", fontSize: 12, fill: "black"}),
      Plot.text([regionNames[i]], {text: (d) => d, frameAnchor: "top", dy: -13.5, textAnchor: "middle", lineAnchor: "middle", fontSize: 15, fontWeight: "bold", fill: "black"}),
      Plot.text(["Flu activity"], {text: (d) => d, frameAnchor: "left", dx: -47, rotate: -90, textAnchor: "middle", lineAnchor: "middle", fontSize: 15, fill: "black"})
    ]
  });
  const div = document.createElement("div");
  div.className = "panel";
  div.style.left = (col * 370) + "px";
  div.style.top = (row * 151.5) + "px";
  div.appendChild(plot);
  chart.appendChild(div);
}
</script>
</body>
</html>
